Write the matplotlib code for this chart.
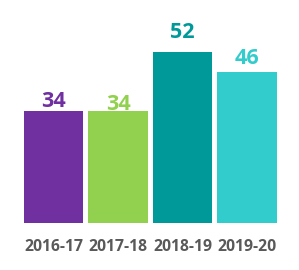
import matplotlib
matplotlib.use("Agg")
import matplotlib.pyplot as plt

categories = ["2016-17", "2017-18", "2018-19", "2019-20"]
values = [34, 34, 52, 46]
colors = ["#7030A0", "#92D050", "#009999", "#33CCCC"]
label_gap_px = [4, 1, 14, 8]

plt.rcParams['font.family'] = ['Open Sans', 'DejaVu Sans']

fig = plt.figure(figsize=(2.99, 2.70), dpi=100)
ax = fig.add_axes([0.0711, 0.175, 0.863, 0.730])
x = list(range(len(categories)))
ax.bar(x, values, width=0.92, color=colors)
ax.set_xlim(-0.5, 3.5)
ax.set_ylim(0, 60)
for xi, v, c, g in zip(x, values, colors, label_gap_px):
    ax.annotate(str(v), (xi, v), xytext=(0, g * 0.72), textcoords="offset points",
                ha="center", va="baseline", fontsize=15.5, fontweight="bold", color=c)
ax.set_xticks(x)
ax.set_xticklabels(categories, fontsize=11.3, fontweight="bold", color="#595959")
ax.tick_params(axis="x", length=0, pad=11.5)
ax.set_yticks([])
for s in ax.spines.values():
    s.set_visible(False)
fig.savefig("out.png", dpi=100)
